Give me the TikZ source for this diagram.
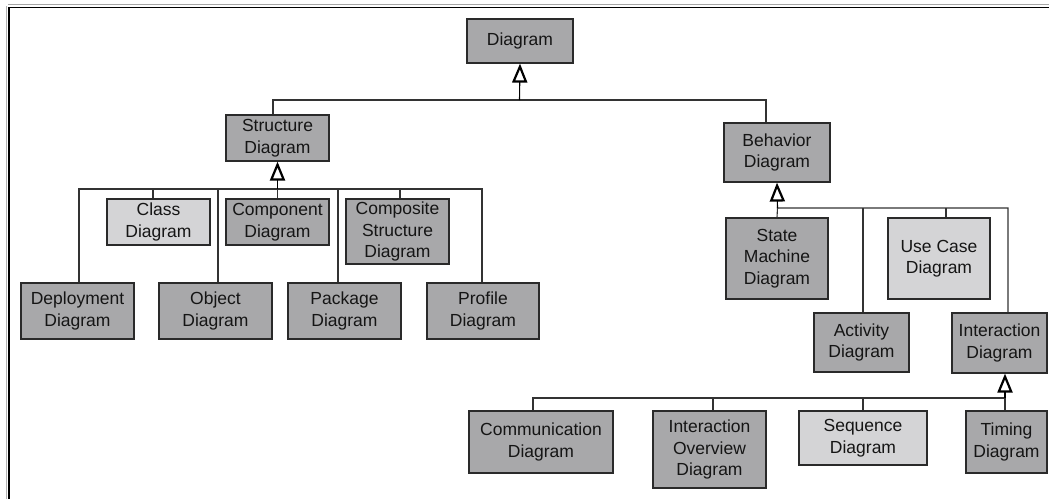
\documentclass[tikz,border=0pt]{standalone}
\usepackage{fontspec}
\setmainfont{Liberation Sans}
\usetikzlibrary{arrows.meta,calc}
\definecolor{boxdark}{HTML}{A8A8AA}
\definecolor{boxlight}{HTML}{D4D4D6}
\definecolor{edge}{HTML}{2A2A2A}
\definecolor{wire}{HTML}{333333}
\definecolor{txt}{HTML}{151515}
\tikzset{
  umlbox/.style={draw=edge, line width=1.2pt, fill=boxdark, inner sep=0pt, align=center,
    text=txt, font=\fontsize{17.5}{21.5}\selectfont},
  lightbox/.style={umlbox, fill=boxlight},
  conn/.style={draw=wire, line width=1.1pt},
  gen/.style={draw=black, line width=1.1pt, -{Triangle[open, length=19pt, width=15pt, line width=2.2pt]}},
}
\begin{document}
\begin{tikzpicture}[x=1pt,y=-1pt]
\useasboundingbox (0,0) rectangle (1049,499);
% frame
\draw[gray!70, line width=1pt] (8,4.5) -- (1049,4.5);
\draw[black, line width=1.8pt] (8,7.5) -- (1049,7.5);
\draw[gray!60, line width=1pt] (6.5,6) -- (6.5,499);
\draw[black, line width=2pt] (9,7) -- (9,499);
% nodes
\node[umlbox, minimum width=106, minimum height=44] (diagram) at (520,41) {Diagram};
\node[umlbox, minimum width=103, minimum height=46] (structure) at (277.5,138) {Structure\\Diagram};
\node[umlbox, minimum width=106, minimum height=59] (behavior) at (777,152.5) {Behavior\\Diagram};
\node[lightbox, minimum width=103, minimum height=46] (class) at (158.5,222) {Class\\Diagram};
\node[umlbox, minimum width=103, minimum height=46] (component) at (277.5,222) {Component\\Diagram};
\node[umlbox, minimum width=103, minimum height=65] (composite) at (397.5,231.5) {Composite\\Structure\\Diagram};
\node[umlbox, minimum width=113, minimum height=56] (deployment) at (77.5,311) {Deployment\\Diagram};
\node[umlbox, minimum width=113, minimum height=56] (object) at (215.5,311) {Object\\Diagram};
\node[umlbox, minimum width=113, minimum height=56] (package) at (344.5,311) {Package\\Diagram};
\node[umlbox, minimum width=112, minimum height=56] (profile) at (483,311) {Profile\\Diagram};
\node[umlbox, minimum width=102, minimum height=81] (statemachine) at (777,258.5) {State\\Machine\\Diagram};
\node[lightbox, minimum width=102, minimum height=81] (usecase) at (939,258.5) {Use Case\\Diagram};
\node[umlbox, minimum width=95, minimum height=59] (activity) at (861.5,342.5) {Activity\\Diagram};
\node[umlbox, minimum width=95, minimum height=60] (interaction) at (999.5,343) {Interaction\\Diagram};
\node[umlbox, minimum width=144, minimum height=62] (communication) at (541,442) {Communication\\Diagram};
\node[umlbox, minimum width=113, minimum height=77] (overview) at (709.5,449.5) {Interaction\\Overview\\Diagram};
\node[lightbox, minimum width=128, minimum height=54] (sequence) at (863,438) {Sequence\\Diagram};
\node[umlbox, minimum width=81, minimum height=62] (timing) at (1006.5,442) {Timing\\Diagram};
% buses
\coordinate (dbus) at (519.5,100);
\coordinate (sbus) at (277.5,189);
\coordinate (bbus) at (777.5,208);
\coordinate (ibus) at (1005,398);
% Diagram generalization
\draw[conn] ([xshift=-4.5pt]structure.north) |- (dbus) -| ([xshift=-11pt]behavior.north);
\draw[gen] (dbus) -- (diagram.south);
% Structure generalization
\draw[conn] (component.north) -- (sbus);
\draw[conn] ([xshift=1.5pt]deployment.north) |- ([xshift=-1pt]profile.north |- sbus) -- ([xshift=-1pt]profile.north);
\draw[conn] ([xshift=-5.5pt]class.north) -- ([xshift=-5.5pt]class.north |- sbus);
\draw[conn] ([xshift=2.5pt]object.north) -- ([xshift=2.5pt]object.north |- sbus);
\draw[conn] ([xshift=-6.5pt]package.north) -- ([xshift=-6.5pt]package.north |- sbus);
\draw[conn] ([xshift=2.5pt]composite.north) -- ([xshift=2.5pt]composite.north |- sbus);
\draw[gen] (sbus) -- (structure.south);
% Behavior generalization
\draw[conn] (statemachine.north) -- (bbus) -| ([xshift=8.5pt]interaction.north);
\draw[conn] ([xshift=1.5pt]activity.north) -- ([xshift=1.5pt]activity.north |- bbus);
\draw[conn] ([xshift=7pt]usecase.north) -- ([xshift=7pt]usecase.north |- bbus);
\draw[gen] (bbus) -- (behavior.south);
% Interaction generalization
\draw[conn] ([xshift=-1.5pt]timing.north) -- (ibus) -| ([xshift=-8pt]communication.north);
\draw[conn] ([xshift=3.5pt]overview.north) -- ([xshift=3.5pt]overview.north |- ibus);
\draw[conn] (sequence.north) -- (sequence.north |- ibus);
\draw[gen] (ibus) -- ([xshift=5.5pt]interaction.south);
\end{tikzpicture}
\end{document}
